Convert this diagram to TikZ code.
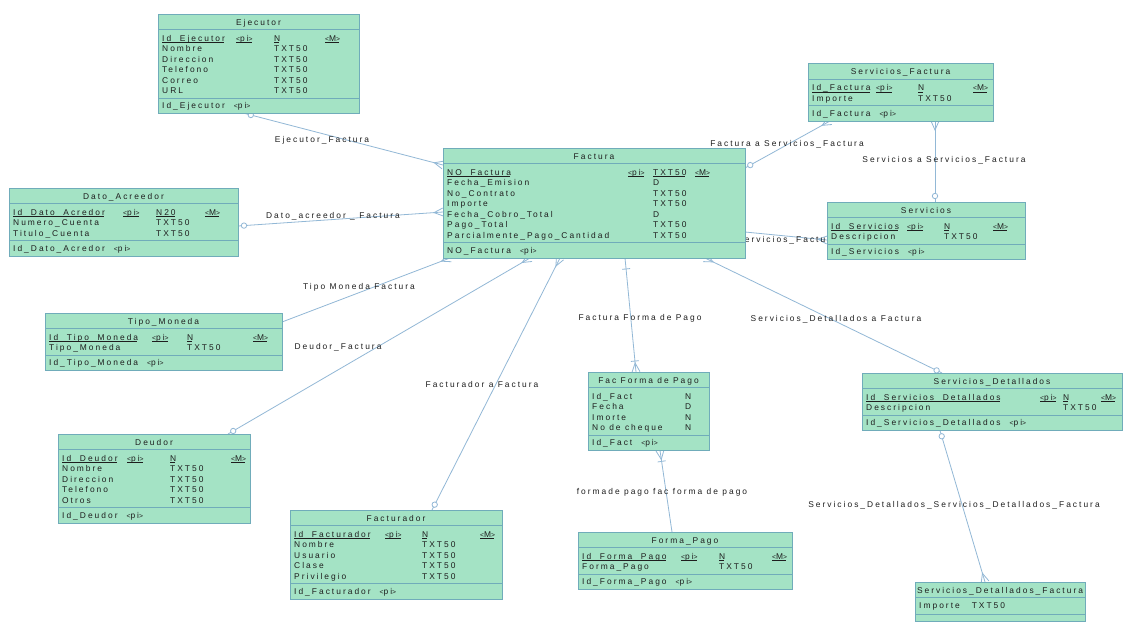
\documentclass[tikz,border=0pt]{standalone}
\usepackage{fontspec}
\newfontfamily\erfont[LetterSpace=24]{Liberation Sans}
\usetikzlibrary{calc}
\pgfdeclarelayer{bg}
\pgfsetlayers{bg,main}
\definecolor{entfill}{RGB}{164,227,197}
\definecolor{entdraw}{RGB}{112,172,186}
\definecolor{connclr}{RGB}{146,184,214}
\definecolor{txtclr}{RGB}{30,30,30}
\tikzset{
  entbox/.style={draw=entdraw, fill=entfill, line width=0.8pt, inner sep=0pt, outer sep=0pt},
  eline/.style={draw=entdraw, line width=0.7pt},
  erfontstyle/.style={text=txtclr, font=\erfont\fontsize{8.4}{10.5}\selectfont},
  etitle/.style={erfontstyle, anchor=base, inner sep=0pt},
  col/.style={erfontstyle, anchor=north west, inner sep=0pt, align=left},
  cell/.style={erfontstyle, anchor=base west, inner sep=0pt},
  lbl/.style={erfontstyle, inner sep=0pt},
  conn/.style={draw=connclr, line width=0.8pt},
}
% close underline for identifier attributes
\newcommand\ul[1]{\setbox0\hbox{#1}\rlap{\rule[-1.5pt]{\dimexpr\wd0-1pt\relax}{0.5pt}}\box0}
% small angle brackets used in <pi> and <M>
\newcommand\angled[1]{{\fontsize{6.8}{7}\selectfont<}#1{\fontsize{6.8}{7}\selectfont>}}
% entity box: name, x1, x2, top, number of attribute rows, title
\newcommand\entity[6]{%
  \pgfmathsetmacro\eH{47+10.5*(#5-1)}%
  \node[entbox, minimum width={#3-#2}, minimum height={\eH}] (#1) at ({(#2+#3)/2},{#4+\eH/2}) {};
  \node[etitle] (#1-t) at ({(#2+#3)/2},{#4+11}) {#6};
  \draw[eline] ([yshift=-15.5pt]#1.north west) -- ([yshift=-15.5pt]#1.north east);
  \draw[eline] ([yshift=15.5pt]#1.south west) -- ([yshift=15.5pt]#1.south east);
}
% attribute columns: name, top, x names, names, x pi, x type, types, x M
\newcommand\erows[8]{%
  \node[col] (#1-n) at (#3,{#2+19.65}) {\strut #4};
  \node[col] (#1-p) at (#5,{#2+19.65}) {\strut\ul{\angled{pi}}};
  \node[col] (#1-d) at (#6,{#2+19.65}) {\strut #7};
  \node[col] (#1-m) at (#8,{#2+19.65}) {\strut\ul{\angled{M}}};
}
% identifier row at the foot of an entity
\newcommand\ekey[2]{%
  \node[cell] (#1-k) at ([xshift=4pt, yshift=5pt]#1.south west) {#2\hspace{9pt}\angled{pi}};
}
% relationship end marks
\newcommand\ocirc[2]{\draw[conn, fill=white] ($(#1)!6pt!(#2)$) circle (2.7pt);}
\newcommand\crow[2]{\draw[conn] ($(#1)!4pt!90:(#2)$) -- ($(#1)!9pt!(#2)$) -- ($(#1)!4pt!-90:(#2)$);}
\newcommand\tbar[2]{\draw[conn] ($(#1)!11pt!(#2)!4pt!90:(#2)$) -- ($(#1)!11pt!(#2)!4pt!-90:(#2)$);}
\begin{document}
\begin{tikzpicture}[x=1pt,y=-1pt]
\begin{pgfonlayer}{bg}
  \fill[white] (0,0) rectangle (1125,624);
\end{pgfonlayer}
\useasboundingbox (0,0) rectangle (1125,624);

% ---------- entities ----------
\entity{ej}{158}{359}{14}{6}{Ejecutor}
\erows{ej}{14}{162}{\ul{Id\_Ejecutor}\\Nombre\\Direccion\\Telefono\\Correo\\URL}{236}{274}{\ul{N}\\TXT50\\TXT50\\TXT50\\TXT50\\TXT50}{325}
\ekey{ej}{Id\_Ejecutor}

\entity{sf}{808}{993}{63.5}{2}{Servicios\_Factura}
\erows{sf}{63.5}{812}{\ul{Id\_Factura}\\Importe}{876}{918}{\ul{N}\\TXT50}{973}
\ekey{sf}{Id\_Factura}

\entity{da}{9}{238}{188}{3}{Dato\_Acreedor}
\erows{da}{188}{13}{\ul{Id\_Dato\_Acredor}\\Numero\_Cuenta\\Titulo\_Cuenta}{123}{156}{\ul{N20}\\TXT50\\TXT50}{205}
\ekey{da}{Id\_Dato\_Acredor}

\entity{fa}{443}{745}{148}{7}{Factura}
\erows{fa}{148}{447}{\ul{NO\_Factura}\\Fecha\_Emision\\No\_Contrato\\Importe\\Fecha\_Cobro\_Total\\Pago\_Total\\Parcialmente\_Pago\_Cantidad}{628}{653}{\ul{TXT50}\\D\\TXT50\\TXT50\\D\\TXT50\\TXT50}{695}
\ekey{fa}{NO\_Factura}

\entity{se}{827}{1025}{202}{2}{Servicios}
\erows{se}{202}{831}{\ul{Id\_Servicios}\\Descripcion}{907}{944}{\ul{N}\\TXT50}{993}
\ekey{se}{Id\_Servicios}

\entity{tm}{45}{282}{313}{2}{Tipo\_Moneda}
\erows{tm}{313}{49}{\ul{Id\_Tipo\_Moneda}\\Tipo\_Moneda}{152}{187}{\ul{N}\\TXT50}{253}
\ekey{tm}{Id\_Tipo\_Moneda}

\entity{de}{58}{250}{434}{5}{Deudor}
\erows{de}{434}{62}{\ul{Id\_Deudor}\\Nombre\\Direccion\\Telefono\\Otros}{127}{170}{\ul{N}\\TXT50\\TXT50\\TXT50\\TXT50}{231}
\ekey{de}{Id\_Deudor}

\entity{fr}{290}{502}{510}{5}{Facturador}
\erows{fr}{510}{294}{\ul{Id\_Facturador}\\Nombre\\Usuario\\Clase\\Privilegio}{385}{422}{\ul{N}\\TXT50\\TXT50\\TXT50\\TXT50}{480}
\ekey{fr}{Id\_Facturador}

\entity{ff}{588}{709}{372}{4}{Fac Forma de Pago}
\node[col] (ff-n) at (592,{372+19.65}) {\strut Id\_Fact\\Fecha\\Imorte\\No de cheque};
\node[col] (ff-d) at (685,{372+19.65}) {\strut N\\D\\N\\N};
\ekey{ff}{Id\_Fact}

\entity{fp}{578}{792}{532}{2}{Forma\_Pago}
\erows{fp}{532}{582}{\ul{Id\_Forma\_Pago}\\Forma\_Pago}{681}{719}{\ul{N}\\TXT50}{772}
\ekey{fp}{Id\_Forma\_Pago}

\entity{sd}{862}{1122}{373}{2}{Servicios\_Detallados}
\erows{sd}{373}{866}{\ul{Id\_Servicios\_Detallados}\\Descripcion}{1040}{1063}{\ul{N}\\TXT50}{1101}
\ekey{sd}{Id\_Servicios\_Detallados}

\node[entbox, minimum width=170, minimum height=39] (sdf) at (1000,601.5) {};
\node[etitle] (sdf-t) at (1000,593) {Servicios\_Detallados\_Factura};
\draw[eline] ([yshift=-15.5pt]sdf.north west) -- ([yshift=-15.5pt]sdf.north east);
\node[cell] (sdf-r) at (919,608.5) {Importe\hspace{12pt}TXT50};
\draw[eline] ([yshift=7pt]sdf.south west) -- ([yshift=7pt]sdf.south east);

% ---------- relationships ----------
\begin{pgfonlayer}{bg}
  \coordinate (c1a) at (ej.south -| 245,0);
  \coordinate (c1b) at (fa.west |- 0,165);
  \coordinate (c2a) at (da.east |- 0,226);
  \coordinate (c2b) at (fa.west |- 0,212);
  \coordinate (c3a) at (tm.east |- 0,322);
  \coordinate (c3b) at (fa.south -| 450,0);
  \coordinate (c4a) at (de.north -| 228,0);
  \coordinate (c4b) at (fa.south -| 530,0);
  \coordinate (c5a) at (fr.north -| 432,0);
  \coordinate (c5b) at (fa.south -| 560,0);
  \coordinate (c6a) at (fa.south -| 625,0);
  \coordinate (c6b) at (ff.north -| 636,0);
  \coordinate (c7a) at (ff.south -| 660,0);
  \coordinate (c7b) at (fp.north -| 672,0);
  \coordinate (c8a) at (fa.south -| 705,0);
  \coordinate (c8b) at (sd.north -| 942,0);
  \coordinate (c9a) at (fa.east |- 0,232);
  \coordinate (c9b) at (se.west |- 0,240);
  \coordinate (c10a) at (fa.east |- 0,168);
  \coordinate (c10b) at (sf.south -| 830,0);
  \coordinate (c11a) at (se.north -| 935,0);
  \coordinate (c11b) at (sf.south -| 935,0);
  \coordinate (c12a) at (sd.south -| 940,0);
  \coordinate (c12b) at (sdf.north -| 985,0);

  \foreach \r in {1,...,12} {\draw[conn] (c\r a) -- (c\r b);}

  \ocirc{c1a}{c1b}   \crow{c1b}{c1a}
  \ocirc{c2a}{c2b}   \crow{c2b}{c2a}
  \crow{c3b}{c3a}
  \ocirc{c4a}{c4b}   \crow{c4b}{c4a}
  \ocirc{c5a}{c5b}   \crow{c5b}{c5a}
  \tbar{c6a}{c6b}    \crow{c6b}{c6a} \tbar{c6b}{c6a}
  \crow{c7a}{c7b}    \tbar{c7a}{c7b}
  \crow{c8a}{c8b}    \ocirc{c8b}{c8a}
  \crow{c9b}{c9a}
  \ocirc{c10a}{c10b} \crow{c10b}{c10a}
  \ocirc{c11a}{c11b} \crow{c11b}{c11a}
  \ocirc{c12a}{c12b} \crow{c12b}{c12a}

  \node[lbl] (l-ej) at (322,140) {Ejecutor\_Factura};
  \node[lbl] (l-da) at (333,216) {Dato\_acreedor \_ Factura};
  \node[lbl] (l-tm) at (359,287) {Tipo Moneda Factura};
  \node[lbl] (l-de) at (338,347) {Deudor\_Factura};
  \node[lbl] (l-fr) at (482,384) {Facturador a Factura};
  \node[lbl] (l-ff) at (640,318) {Factura Forma de Pago};
  \node[lbl] (l-sd) at (836,319) {Servicios\_Detallados a Factura};
  \node[lbl] (l-fp) at (662,492) {formade pago fac forma de pago};
  \node[lbl] (l-sdf) at (954,505) {Servicios\_Detallados\_Servicios\_Detallados\_Factura};
  \node[lbl] (l-se) at (787,240) {Servicios\_Factura};
  \node[lbl] (l-sf) at (787,144) {Factura a Servicios\_Factura};
  \node[lbl] (l-ss) at (944,160) {Servicios a Servicios\_Factura};
\end{pgfonlayer}
\end{tikzpicture}
\end{document}
